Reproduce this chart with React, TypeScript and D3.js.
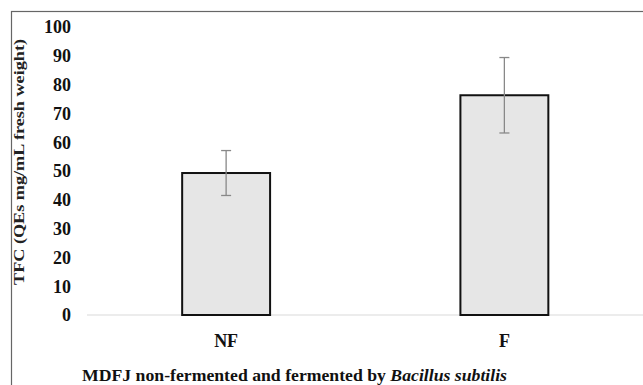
import * as d3 from "d3";

const categories = ["NF", "F"];
const means = [49.3, 76.3];
const errors = [7.8, 13.1];
const yTicks = [0, 10, 20, 30, 40, 50, 60, 70, 80, 90, 100];

const W = 643;
const H = 385;
const font = "'Times New Roman', 'Liberation Serif', Times, serif";

const App = () => {
  const x = d3.scaleBand().domain(categories).range([87, 643.5]).paddingInner(0.684).paddingOuter(0.342);
  const y = d3.scaleLinear().domain([0, 100]).range([315, 27]);
  const data = categories.map((c, i) => ({ name: c, value: means[i], err: errors[i] }));

  return (
    <svg width={W} height={H} style={{ position: "absolute", left: 0, top: 0, fontFamily: font }}>
      <rect x={0} y={0} width={W} height={H} fill="#fff" />
      {/* outer frame, runs off the right and bottom edges */}
      <rect x={11.5} y={11.5} width={W} height={H} fill="none" stroke="#666" strokeWidth={1.2} />

      {/* y title */}
      <text
        transform={`translate(24, ${162}) rotate(-90)`}
        textAnchor="middle"
        style={{ fontFamily: font, fontWeight: "bold", fontSize: 15 }}
        textLength={246}
        lengthAdjust="spacingAndGlyphs"
        fill="#222"
      >
        TFC (QEs mg/mL fresh weight)
      </text>

      {yTicks.map((t) => (
        <text key={t} x={71} y={y(t)} dy="0.35em" textAnchor="end" style={{ fontFamily: font, fontWeight: "bold", fontSize: 18 }} fill="#111">
          {t}
        </text>
      ))}

      {/* baseline */}
      <line x1={87} x2={W} y1={y(0)} y2={y(0)} stroke="#d9d9d9" strokeWidth={1} />

      {data.map((d) => {
        const cx = x(d.name)! + x.bandwidth() / 2;
        return (
          <g key={d.name}>
            <rect
              x={x(d.name)}
              y={y(d.value)}
              width={x.bandwidth()}
              height={y(0) - y(d.value)}
              fill="#e6e6e6"
              stroke="#111"
              strokeWidth={2}
            />
            <line x1={cx} x2={cx} y1={y(d.value + d.err)} y2={y(d.value - d.err)} stroke="#888" strokeWidth={1.3} />
            <line x1={cx - 5} x2={cx + 5} y1={y(d.value + d.err)} y2={y(d.value + d.err)} stroke="#888" strokeWidth={1.3} />
            <line x1={cx - 5} x2={cx + 5} y1={y(d.value - d.err)} y2={y(d.value - d.err)} stroke="#888" strokeWidth={1.3} />
            <text x={cx} y={347} textAnchor="middle" style={{ fontFamily: font, fontWeight: "bold", fontSize: 18 }} fill="#111">
              {d.name}
            </text>
          </g>
        );
      })}

      <text x={82} y={381} style={{ fontFamily: font, fontWeight: "bold", fontSize: 16 }} textLength={425} lengthAdjust="spacingAndGlyphs" fill="#111">
        MDFJ non-fermented and fermented by <tspan fontStyle="italic">Bacillus subtilis</tspan>
      </text>
    </svg>
  );
};

export default App;
